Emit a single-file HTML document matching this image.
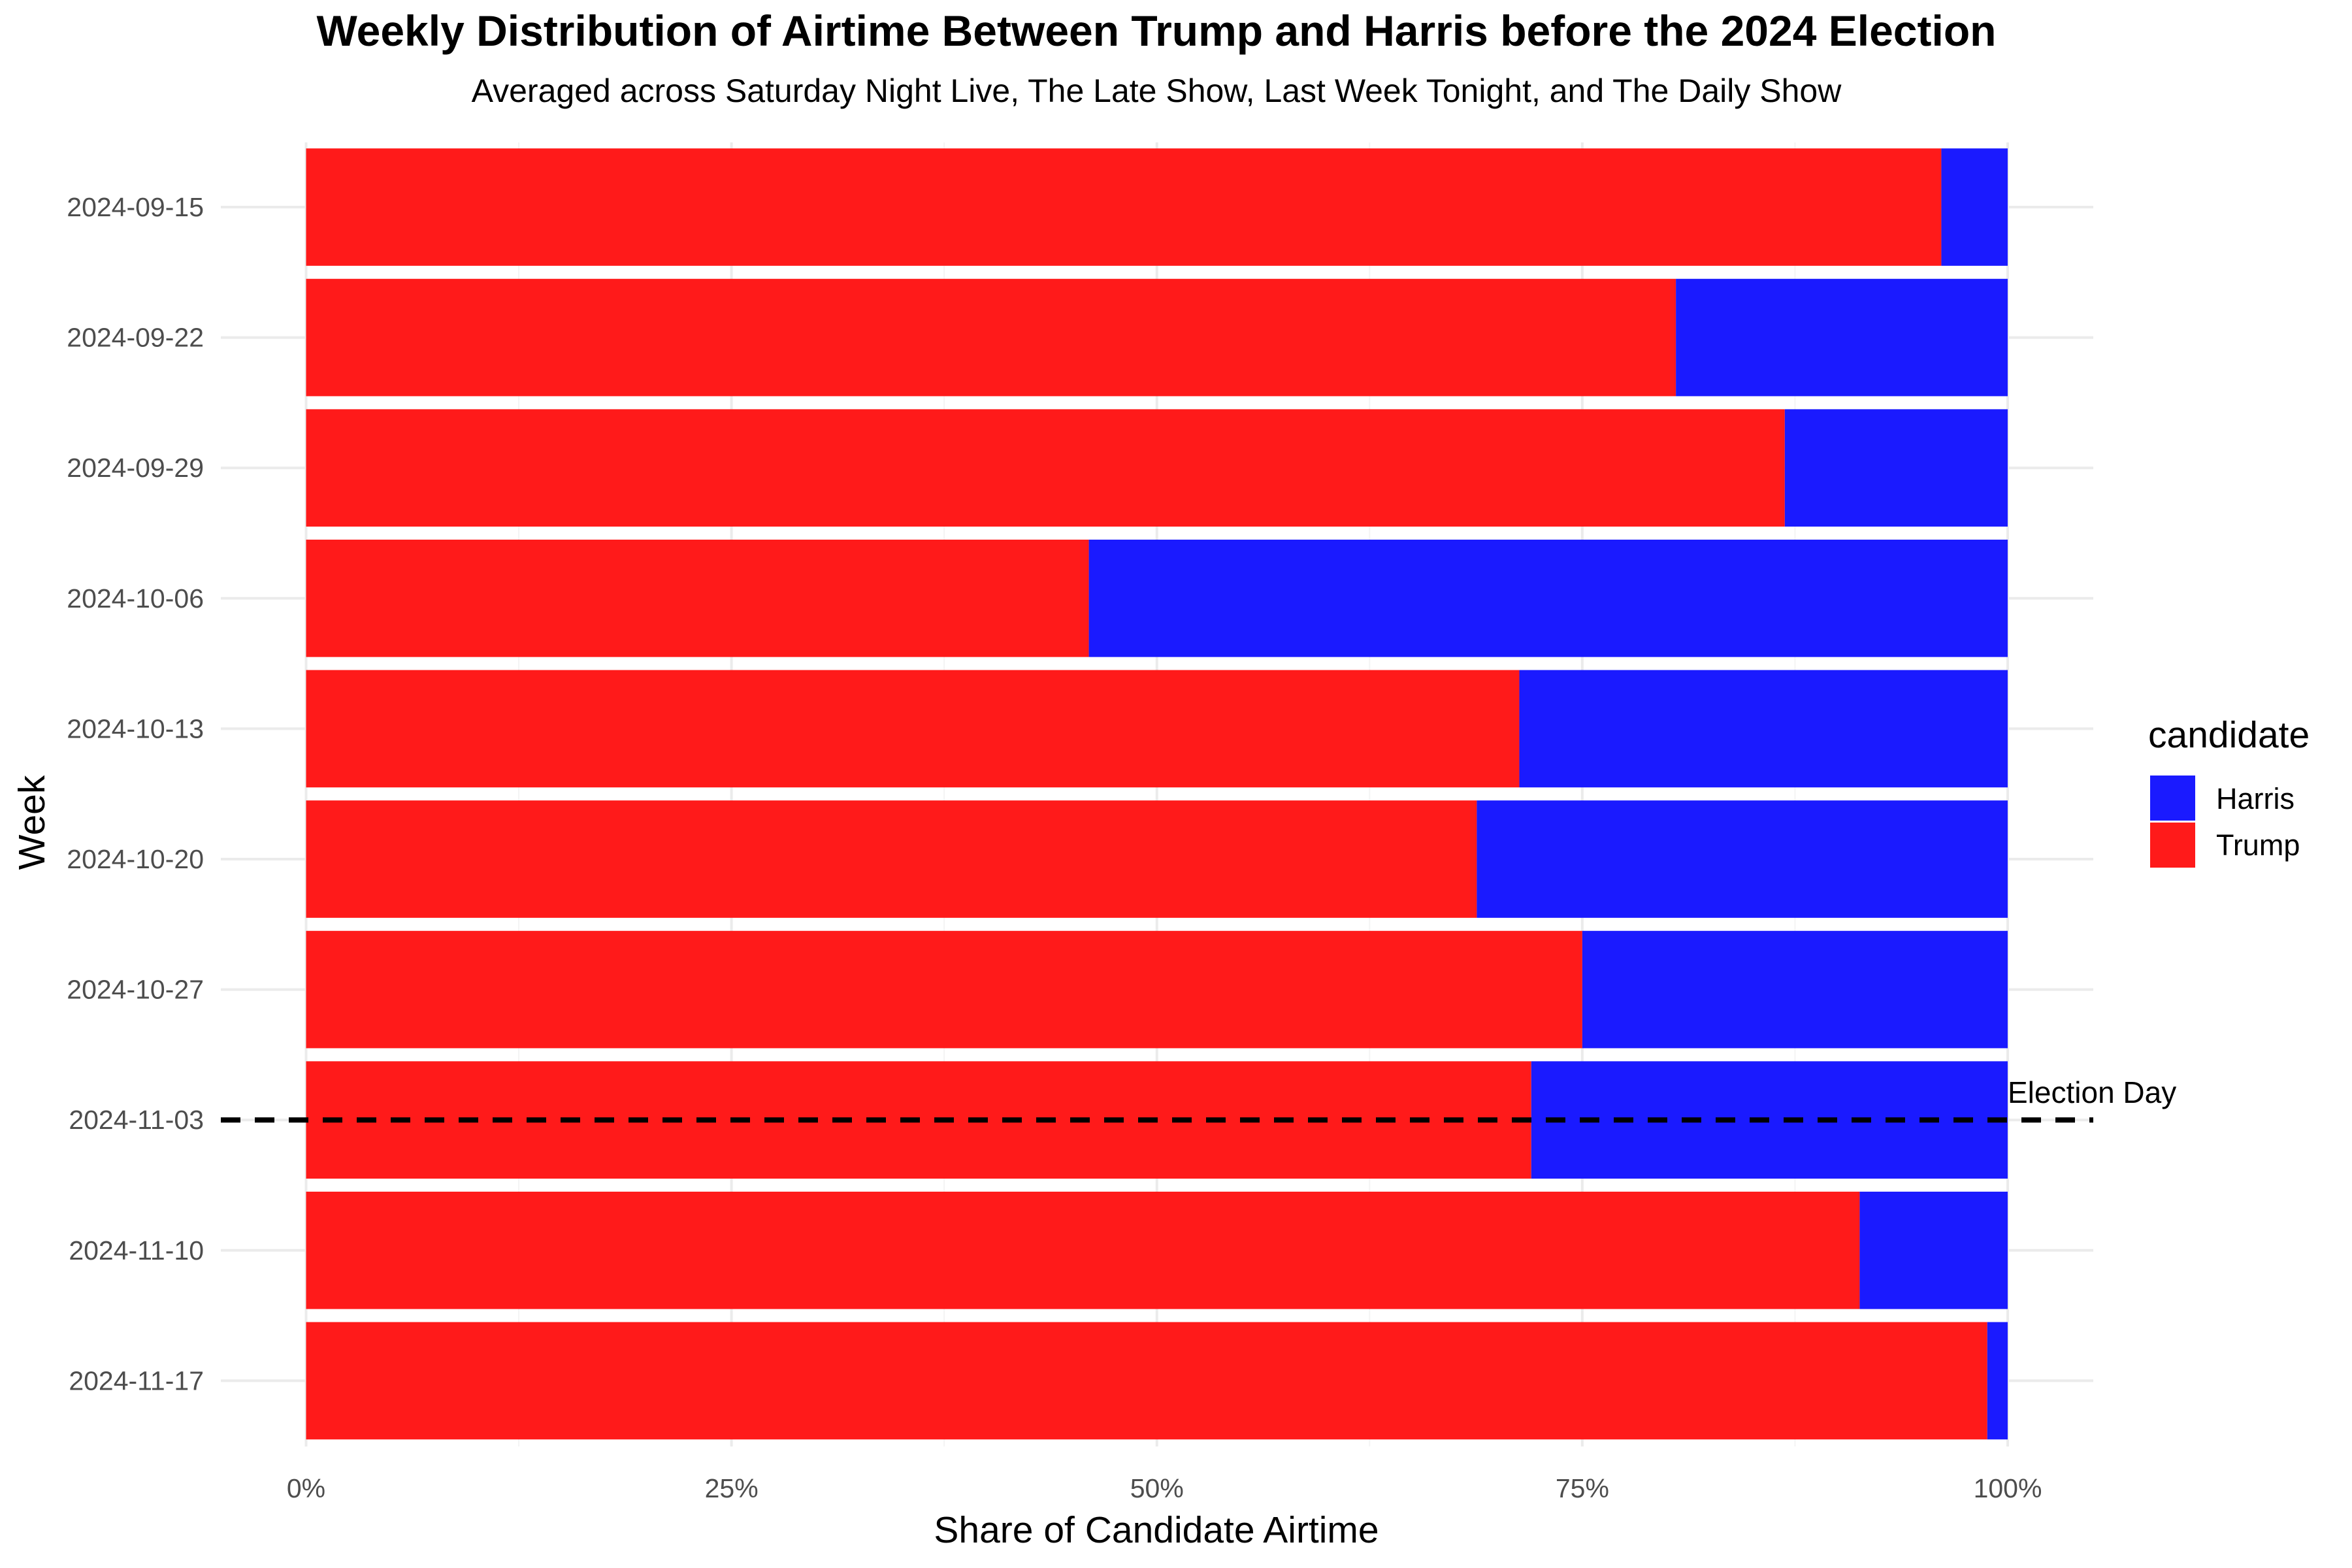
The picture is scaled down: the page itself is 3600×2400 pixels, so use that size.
<!DOCTYPE html>
<html><head><meta charset="utf-8"><style>
html,body{margin:0;padding:0;background:#fff;}
svg{display:block;font-family:"Liberation Sans",sans-serif;}
</style></head><body>
<svg id="chart" width="3600" height="2400" viewBox="0 0 3600 2400" xmlns="http://www.w3.org/2000/svg">
<rect width="3600" height="2400" fill="#fff"/>
<text x="1770" y="70" text-anchor="middle" font-size="66" font-weight="bold">Weekly Distribution of Airtime Between Trump and Harris before the 2024 Election</text>
<text x="1770" y="156" text-anchor="middle" font-size="50">Averaged across Saturday Night Live, The Late Show, Last Week Tonight, and The Daily Show</text>
<g id="grid"></g>
<g id="bars"></g>
<g id="yticks"></g>
<g id="xticks"></g>
<text x="1770" y="2361" text-anchor="middle" font-size="57">Share of Candidate Airtime</text>
<text transform="translate(68,1259) rotate(-90)" text-anchor="middle" font-size="57">Week</text>
<g>
<text x="3288" y="1144" font-size="57">candidate</text>
<rect x="3291" y="1187" width="69" height="69" fill="#1a1aff"/>
<text x="3392" y="1238" font-size="45">Harris</text>
<rect x="3291" y="1259" width="69" height="69" fill="#ff1a1a"/>
<text x="3392" y="1309" font-size="45">Trump</text>
</g>
</svg>
<script>
const weeks = ["2024-09-15","2024-09-22","2024-09-29","2024-10-06","2024-10-13","2024-10-20","2024-10-27","2024-11-03","2024-11-10","2024-11-17"];
const trumpShare = [96.1, 80.5, 86.9, 46.0, 71.3, 68.8, 75.0, 72.0, 91.3, 98.8];
const harrisShare = [3.9, 19.5, 13.1, 54.0, 28.7, 31.2, 25.0, 28.0, 8.7, 1.2];
const xTickValues = [0, 25, 50, 75, 100];
const xTickLabels = ["0%", "25%", "50%", "75%", "100%"];
const electionWeek = "2024-11-03";

const NS = "http://www.w3.org/2000/svg";
const PL = 338, PR = 3204, PT = 218, PB = 2214;
const X0 = 468.5, X1 = 3073;
const xs = v => X0 + (X1 - X0) * v / 100;
const Y0 = 317, STEP = 199.6;
const ys = i => Y0 + STEP * i;
const BH = STEP * 0.9;
function mk(tag, attrs, parent) { const e = document.createElementNS(NS, tag); for (const k in attrs) e.setAttribute(k, attrs[k]); parent.appendChild(e); return e; }
const grid = document.getElementById('grid'), bars = document.getElementById('bars');
const yt = document.getElementById('yticks'), xt = document.getElementById('xticks');
for (let v = 0; v <= 100; v += 12.5) {
  const major = v % 25 === 0;
  const l = mk('line', {x1: xs(v), x2: xs(v), y1: PT, y2: PB, stroke: major ? '#ebebeb' : '#f4f4f4', 'stroke-width': major ? 4 : 2}, grid);
  
  
}
weeks.forEach((w, i) => {
  const l = mk('line', {x1: PL, x2: PR, y1: ys(i), y2: ys(i), stroke: '#ebebeb', 'stroke-width': 4}, grid);
  
  
  const t = mk('rect', {x: xs(0), y: ys(i) - BH / 2, width: xs(trumpShare[i]) - xs(0), height: BH, fill: '#ff1a1a'}, bars);
  
  
  const h = mk('rect', {x: xs(trumpShare[i]), y: ys(i) - BH / 2, width: xs(trumpShare[i] + harrisShare[i]) - xs(trumpShare[i]), height: BH, fill: '#1a1aff'}, bars);
  
  
  const lab = mk('text', {x: 312, y: ys(i) + 14, 'text-anchor': 'end', 'font-size': 41, fill: '#4d4d4d'}, yt);
  lab.textContent = w;
  
  
});
xTickValues.forEach((v, i) => {
  const t = mk('text', {x: xs(v), y: 2292, 'text-anchor': 'middle', 'font-size': 41, fill: '#4d4d4d'}, xt);
  t.textContent = xTickLabels[i];
  
  
});
const ei = weeks.indexOf(electionWeek);
const dl = mk('line', {x1: PL, x2: PR, y1: ys(ei), y2: ys(ei), stroke: '#000', 'stroke-width': 8, 'stroke-dasharray': '30 22'}, document.getElementById('chart'));


const et = mk('text', {x: X1, y: ys(ei) - 26, 'font-size': 46, fill: '#000'}, document.getElementById('chart'));
et.textContent = 'Election Day';


</script>
</body></html>
